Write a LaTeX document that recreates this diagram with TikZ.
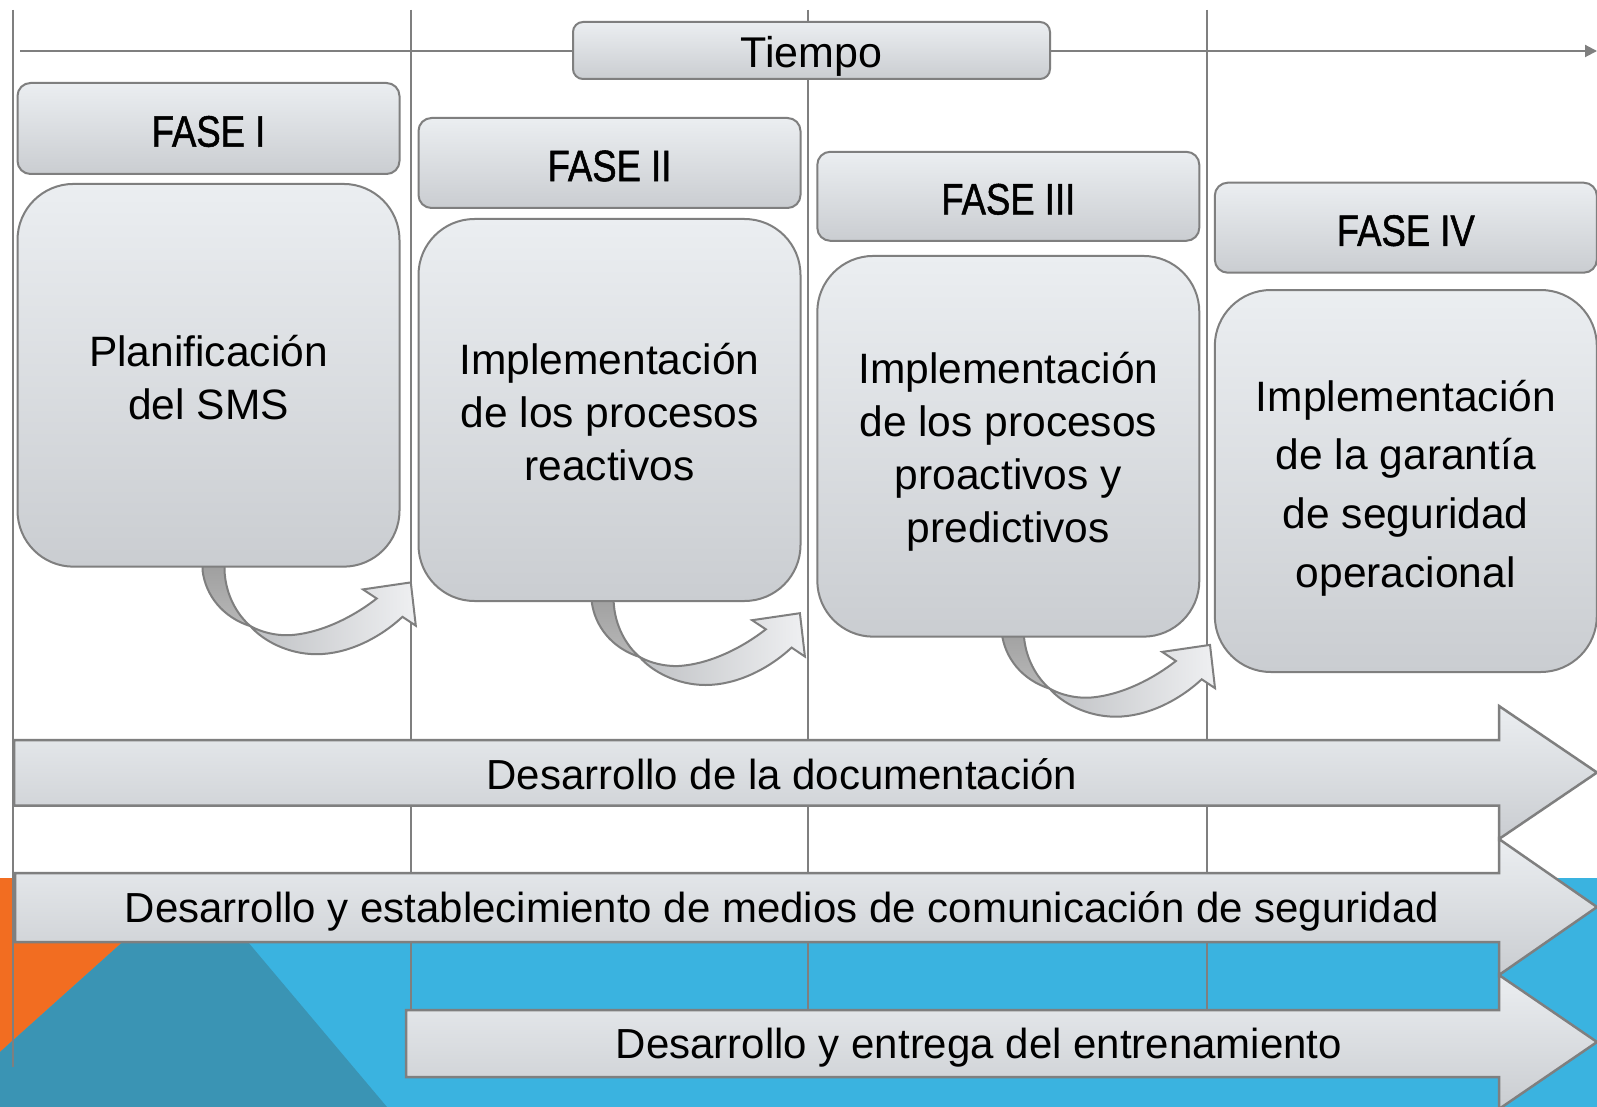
\documentclass[tikz,border=0pt]{standalone}
\usepackage{fontspec}
\setmainfont{Liberation Sans}
\newfontfamily\condfont{Liberation Sans}[FakeStretch=0.83,FakeBold=1.2]
\usetikzlibrary{arrows.meta}
\definecolor{gline}{HTML}{7F7F7F}
\definecolor{btop}{HTML}{EBEEF1}
\definecolor{bbot}{HTML}{CACDD1}
\definecolor{bgorange}{HTML}{F26D21}
\definecolor{bgteal}{HTML}{3A94B4}
\definecolor{bgblue}{HTML}{3AB3E0}
\definecolor{stripdark}{HTML}{9E9E9E}
\definecolor{stripmid}{HTML}{B8B8B8}
\definecolor{frontleft}{HTML}{BFC1C4}
\definecolor{frontright}{HTML}{EFF0F2}
\tikzset{
  box/.style={draw=gline, line width=2pt, top color=btop, bottom color=bbot, inner sep=0pt},
  hdr/.style={box, rounded corners=13pt, minimum width=382pt},
  hdrtext/.style={inner sep=0pt, font=\condfont\fontsize{44}{50}\selectfont},
  bodybox/.style={box, rounded corners=56pt, minimum width=382pt},
  bodytext/.style={inner sep=0pt, align=center, font=\fontsize{42.5}{53}\selectfont},
  tbox/.style={box, rounded corners=10pt, minimum width=477pt, minimum height=57pt},
  bartext/.style={font=\fontsize{42}{50}\selectfont, inner sep=0pt},
  divider/.style={draw=gline, line width=2pt},
  blockarrow/.style={draw=gline, line width=2.5pt, top color=btop, bottom color=bbot, line join=miter},
  backstrip/.style={draw=gline, line width=2pt, top color=stripdark, bottom color=stripmid},
  frontarrow/.style={draw=gline, line width=2pt, left color=frontleft, right color=frontright, line join=miter},
}
\newcommand{\curvarrow}[2]{%
  \begin{scope}[shift={(#1,#2)}]
    \path[backstrip] (185,-8) -- (185,0) .. controls (188,25) and (205,47) .. (233,56)
      .. controls (220,45) and (208,25) .. (207,0) -- (207,-8) -- cycle;
    \path[frontarrow] (233,56) .. controls (245,70) and (270,84) .. (299,84)
      .. controls (330,84) and (362,68) .. (385,46.6)
      -- (398.3,55.5) -- (393.3,12.2) -- (345.5,19.2) -- (359.2,28.3)
      .. controls (338,45) and (305,63) .. (272,65)
      .. controls (258,65.5) and (244,62) .. (233,56) -- cycle;
  \end{scope}}
\begin{document}
\begin{tikzpicture}[x=1pt,y=-1pt]
\useasboundingbox (0,0) rectangle (1597,1107);
\fill[white] (0,0) rectangle (1597,1107);
% background band
\fill[bgblue] (0,878) rectangle (1597,1107);
\fill[bgorange] (0,878) -- (194,878) -- (0,1052) -- cycle;
\fill[bgteal] (194,878) -- (387,1107) -- (0,1107) -- (0,1052) -- cycle;
% dividers
\draw[divider] (13,10) -- (13,1067);
\draw[divider] (411,10) -- (411,1012);
\draw[divider] (808,10) -- (808,1012);
\draw[divider] (1207,10) -- (1207,1012);
% time axis
\coordinate (t0) at (20,51);
\coordinate (t1) at (1597,51);
\draw[gline, line width=2pt, -{Triangle[length=12pt,width=12pt]}] (t0) -- (t1);
\node[tbox] (tiempo) at (811.5,50.5) {};
\node[inner sep=0pt, font=\fontsize{43}{50}\selectfont] (tiempot) at ([yshift=-6pt]tiempo.center) {Tiempo};
% curved arrows
\curvarrow{17.5}{570.2}
\curvarrow{406.6}{601}
\curvarrow{816.7}{632.7}
% headers
\node[hdr, minimum height=91pt] (h1) at (208.5,128.5) {};
\node[hdr, minimum height=90pt] (h2) at (609.5,163) {};
\node[hdr, minimum height=89pt] (h3) at (1008.3,196.3) {};
\node[hdr, minimum height=90pt] (h4) at (1405.8,227.7) {};
\node[hdrtext] (h1t) at ([yshift=-3pt]h1.center) {FASE I};
\node[hdrtext] (h2t) at ([yshift=-3pt]h2.center) {FASE II};
\node[hdrtext] (h3t) at ([yshift=-3pt]h3.center) {FASE III};
\node[hdrtext] (h4t) at ([yshift=-3pt]h4.center) {FASE IV};
% bodies
\node[bodybox, minimum height=382.7pt] (b1) at (208.5,375.3) {};
\node[bodybox, minimum height=382pt] (b2) at (609.5,410) {};
\node[bodybox, minimum height=380.7pt] (b3) at (1008.3,446.3) {};
\node[bodybox, minimum height=382pt] (b4) at (1405.8,481) {};
\node[bodytext] (b1t) at ([yshift=-2pt]b1.center) {Planificación\\del SMS};
\node[bodytext] (b2t) at ([yshift=-2pt]b2.center) {Implementación\\de los procesos\\reactivos};
\node[bodytext] (b3t) at ([yshift=-5pt]b3.center) {Implementación\\de los procesos\\proactivos y\\predictivos};
\node[bodytext, font=\fontsize{42.5}{58.6}\selectfont] (b4t) at ([yshift=-7pt]b4.center) {Implementación\\de la garantía\\de seguridad\\operacional};
% block arrows
\path[blockarrow] (14,740) -- (1499,740) -- (1499,706) -- (1597,772.5) -- (1499,839) -- (1499,805.5) -- (14,805.5) -- cycle;
\node[bartext] (bar1) at (782,774) {Desarrollo de la documentación};
\path[blockarrow] (15,873) -- (1499,873) -- (1499,839) -- (1597,907) -- (1499,975) -- (1499,942) -- (15,942) -- cycle;
\node[bartext] (bar2) at (782,911.5) {Desarrollo y establecimiento de medios de comunicación de seguridad};
\path[blockarrow] (406,1010) -- (1499,1010) -- (1499,975) -- (1597,1042) -- (1499,1109) -- (1499,1077) -- (406,1077) -- cycle;
\node[bartext] (bar3) at (979,1048) {Desarrollo y entrega del entrenamiento};
\end{tikzpicture}
\end{document}
